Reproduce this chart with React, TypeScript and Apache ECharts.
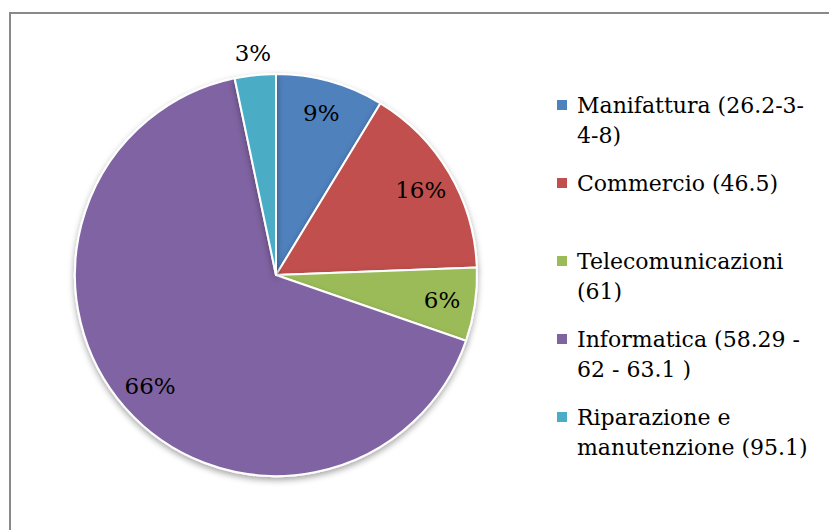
import React, { useEffect, useRef } from "react";
import * as echarts from "echarts";

const categories = [
  "Manifattura (26.2-3-4-8)",
  "Commercio (46.5)",
  "Telecomunicazioni (61)",
  "Informatica (58.29 - 62 - 63.1 )",
  "Riparazione e manutenzione (95.1)",
];
const legendLines = [
  "Manifattura (26.2-3-\n4-8)",
  "Commercio (46.5)\n ",
  "Telecomunicazioni\n(61)",
  "Informatica (58.29 -\n62 - 63.1 )",
  "Riparazione e\nmanutenzione (95.1)",
];
const values = [8.7, 15.7, 5.9, 66.4, 3.3];
const colors = ["#4F81BD", "#C0504D", "#9BBB59", "#8064A2", "#4BACC6"];
const labelOutside = [false, false, false, false, true];

const FONT = "'DejaVu Serif', serif";

export default function App() {
  const ref = useRef<HTMLDivElement>(null);
  useEffect(() => {
    if (!ref.current) return;
    const chart = echarts.init(ref.current, null, { renderer: "svg" });
    const cx = 276;
    const cy = 275;
    const r = 201;
    const fmt = (p: any) => Math.round(p.value) + "%";
    const labelStyle = {
      fontFamily: FONT,
      fontSize: 23,
      color: "#000",
      formatter: fmt,
    };
    chart.setOption({
      animation: false,
      backgroundColor: "#fff",
      graphic: [
        {
          type: "rect",
          shape: { x: 10, y: 13, width: 900, height: 600 },
          style: { fill: "none", stroke: "#898989", lineWidth: 2 },
          silent: true,
        },
      ],
      legend: {
        orient: "vertical",
        left: 555,
        top: 60,
        padding: 0,
        itemWidth: 12,
        itemHeight: 12,
        itemGap: -12,
        icon: "rect",
        selectedMode: false,
        data: categories.map((name, i) => ({
          name,
          itemStyle: { color: colors[i] },
        })),
        formatter: (name: string) =>
          " \n" + legendLines[categories.indexOf(name)],
        textStyle: {
          fontFamily: FONT,
          fontSize: 22,
          lineHeight: 30,
          color: "#000",
          padding: [0, 0, 0, 4],
        },
      },
      series: [
        {
          type: "pie",
          center: [cx, cy],
          radius: r,
          startAngle: 90,
          clockwise: true,
          silent: true,
          label: { show: false },
          labelLine: { show: false },
          itemStyle: {
            borderColor: "#fff",
            borderWidth: 2,
            shadowBlur: 6,
            shadowOffsetY: 3,
            shadowColor: "rgba(0,0,0,0.35)",
          },
          data: categories.map((name, i) => ({
            name,
            value: values[i],
            itemStyle: { color: colors[i] },
          })),
        },
        {
          type: "pie",
          center: [cx, cy],
          radius: [r * 0.64, r],
          startAngle: 90,
          clockwise: true,
          silent: true,
          legendHoverLink: false,
          itemStyle: { color: "rgba(0,0,0,0)", borderWidth: 0 },
          label: { show: true, position: "inside", ...labelStyle },
          labelLine: { show: false },
          data: categories.map((name, i) => ({
            name,
            value: values[i],
            label: { show: !labelOutside[i] },
          })),
        },
        {
          type: "pie",
          center: [cx, cy],
          radius: [r, r * 1.19],
          startAngle: 90,
          clockwise: true,
          silent: true,
          legendHoverLink: false,
          itemStyle: { color: "rgba(0,0,0,0)", borderWidth: 0 },
          label: { show: true, position: "inside", ...labelStyle },
          labelLine: { show: false },
          data: categories.map((name, i) => ({
            name,
            value: values[i],
            label: { show: labelOutside[i] },
          })),
        },
      ],
    });
    return () => chart.dispose();
  }, []);
  return (
    <div
      ref={ref}
      style={{ position: "fixed", left: 0, top: 0, width: 829, height: 530 }}
    />
  );
}
